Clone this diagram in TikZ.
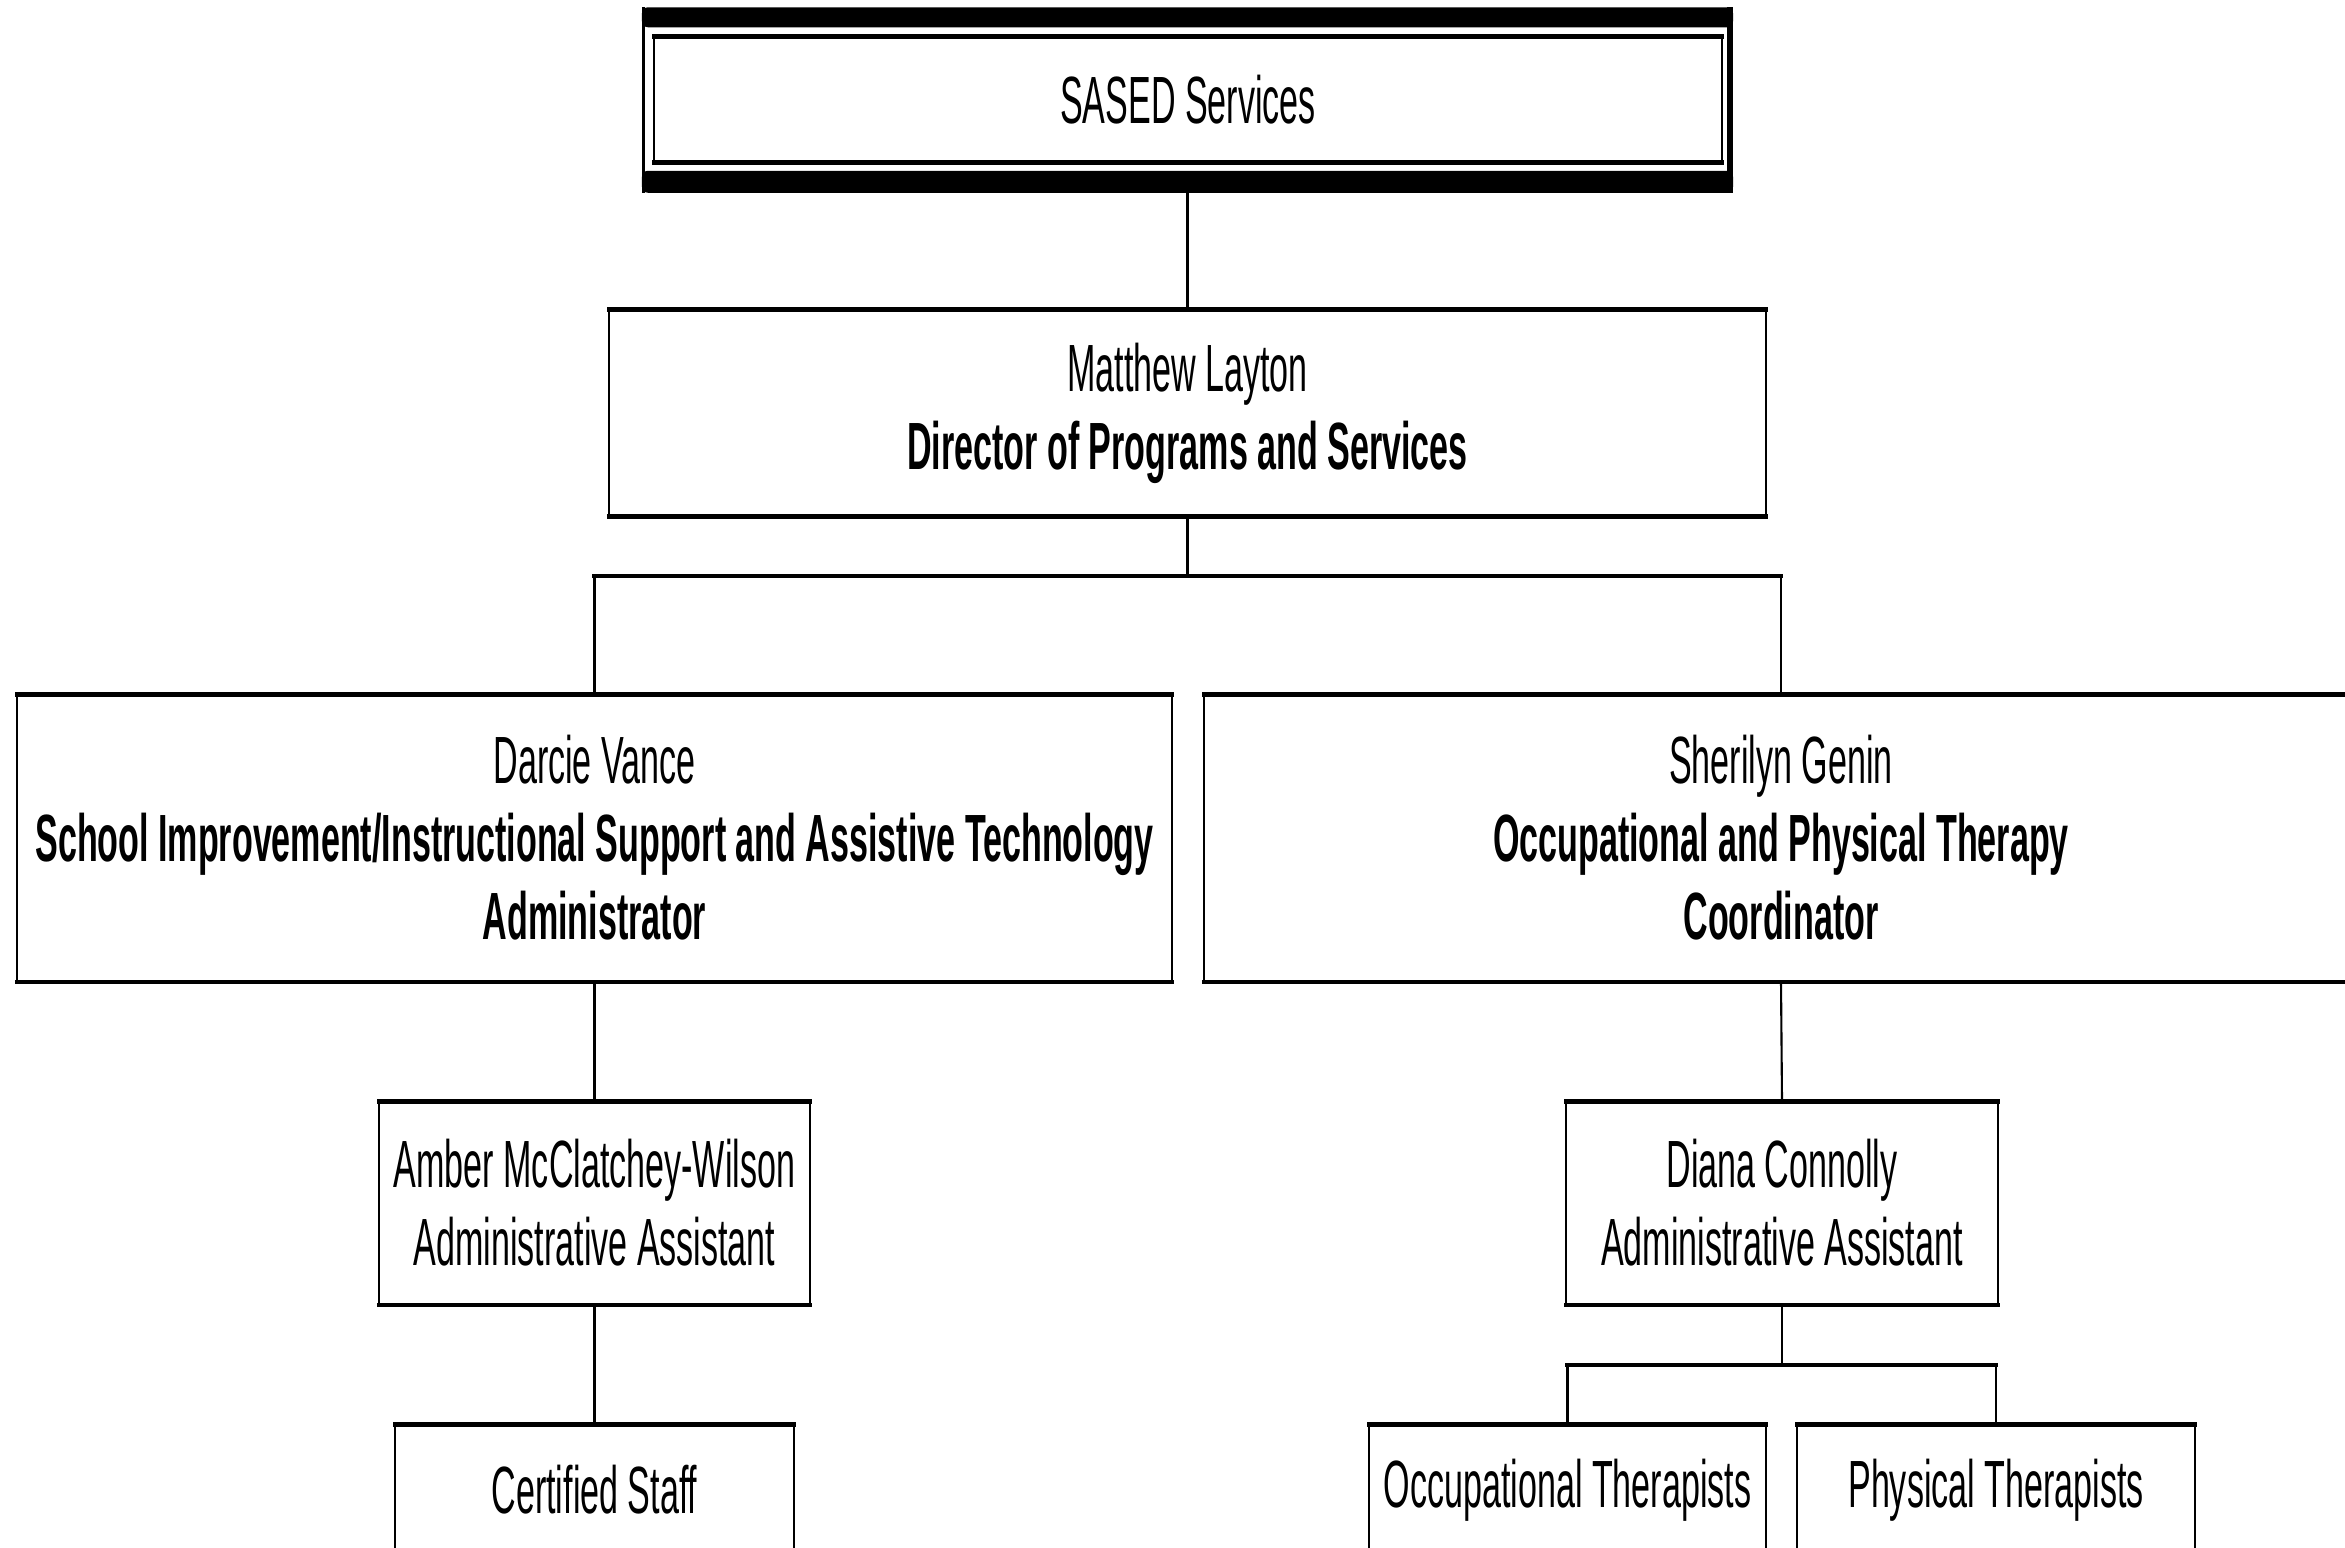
\documentclass[tikz,border=0pt]{standalone}
\usepackage{fontspec}
\setmainfont[FakeStretch=0.51]{Liberation Sans}
\begin{document}
\begin{tikzpicture}[x=0.01cm,y=-0.01cm,
  hl/.style={line width=1.3pt, line cap=rect},
  vl/.style={line width=0.6pt},
  box/.style={inner sep=0pt, align=center, font=\fontsize{19}{22.2}\selectfont},
]
\useasboundingbox (0,0) rectangle (2345,1547);
\fill[white] (0,0) rectangle (2345,1547);
\clip (0,0) rectangle (2345,1547);

% nodes
\node[box, minimum width=10.89cm, minimum height=1.84cm] (top) at (1187.5,100) {};
\node[box, minimum width=10.66cm, minimum height=1.24cm] (sased) at (1188,99.5) {SASED Services};
\node[box, minimum width=11.55cm, minimum height=2.06cm] (dir) at (1187.5,413)
  {Matthew Layton\\\textbf{Director of Programs and Services}};
\node[box, minimum width=11.53cm, minimum height=2.86cm] (darcie) at (594.5,838)
  {Darcie Vance\\\textbf{School Improvement/Instructional Support and Assistive Technology}\\\textbf{Administrator}};
\node[box, minimum width=11.52cm, minimum height=2.86cm] (sher) at (1781,838)
  {Sherilyn Genin\\\textbf{Occupational and Physical Therapy}\\\textbf{Coordinator}};
\node[box, minimum width=4.29cm, minimum height=2.02cm] (amber) at (594.5,1203)
  {Amber McClatchey-Wilson\\Administrative Assistant};
\node[box, minimum width=4.30cm, minimum height=2.02cm] (diana) at (1782,1203)
  {Diana Connolly\\Administrative Assistant};
\node[box, minimum width=3.97cm, minimum height=1.30cm] (cert) at (594.5,1490) {Certified Staff};
\node[box, minimum width=3.95cm, minimum height=1.30cm] (ot) at (1567.5,1490) {Occupational Therapists};
\node[box, minimum width=3.96cm, minimum height=1.30cm] (pt) at (1996,1490) {Physical Therapists};

% top box heavy frame
\fill[rounded corners=0.06cm] (top.north west) rectangle ([yshift=-0.2cm]top.north east);
\fill[rounded corners=0.06cm] ([yshift=0.22cm]top.south west) rectangle (top.south east);
\draw[line width=0.8pt] ([xshift=0.015cm]top.north west) -- ([xshift=0.015cm]top.south west);
\draw[line width=1.6pt] ([xshift=-0.03cm]top.north east) -- ([xshift=-0.03cm]top.south east);

% box frames: heavy horizontal edges, light vertical edges
\foreach \n in {sased,dir,darcie,sher,amber,diana,cert,ot,pt}{
  \draw[hl] (\n.north west) -- (\n.north east) (\n.south west) -- (\n.south east);
  \draw[vl] (\n.north west) -- (\n.south west) (\n.north east) -- (\n.south east);
}

% connectors
\coordinate (b1) at (1187.5,576);
\coordinate (b2) at (1782,1365);
\draw[vl] (top.south) -- (dir.north);
\draw[vl] (dir.south) -- (b1);
\draw[hl] (b1 -| darcie.north) -- (b1 -| sher.north);
\draw[vl] (b1 -| darcie.north) -- (darcie.north);
\draw[vl] (b1 -| sher.north) -- (sher.north);
\draw[vl] (darcie.south) -- (amber.north);
\draw[vl] (amber.south) -- (cert.north);
\draw[vl] (sher.south) -- (diana.north);
\draw[vl] (diana.south) -- (b2);
\draw[hl] (b2 -| ot.north) -- (b2 -| pt.north);
\draw[vl] (b2 -| ot.north) -- (ot.north);
\draw[vl] (b2 -| pt.north) -- (pt.north);
\end{tikzpicture}
\end{document}
